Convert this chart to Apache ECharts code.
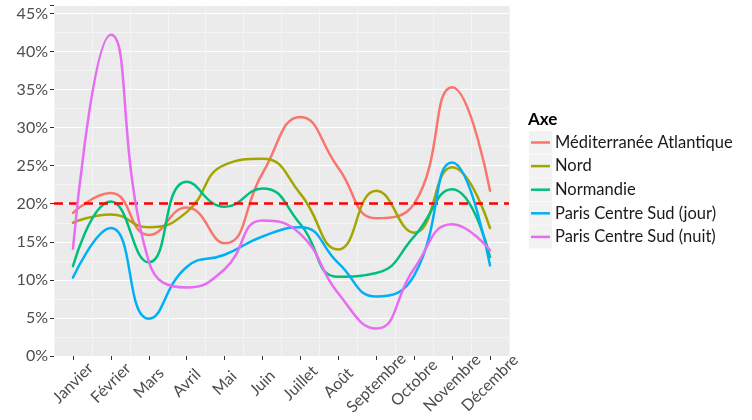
<!DOCTYPE html>
<html>
<head>
<meta charset="utf-8">
<script src="https://cdn.jsdelivr.net/npm/echarts@6/dist/echarts.min.js"></script>
<style>
  html, body { margin: 0; padding: 0; background: #fff; }
  #chart { width: 752px; height: 420px; }
</style>
</head>
<body>
<div id="chart"></div>
<script>
// months on the x axis
var months = ['Janvier', 'Février', 'Mars', 'Avril', 'Mai', 'Juin', 'Juillet', 'Août', 'Septembre', 'Octobre', 'Novembre', 'Décembre'];
// y tick labels (percent)
var yTicks = [0, 5, 10, 15, 20, 25, 30, 35, 40, 45];
// values, in %
var mediterranee = [18.8, 21.4, 15.9, 19.5, 14.8, 24.0, 31.4, 24.7, 18.1, 20.0, 35.3, 21.7];
var nord = [17.5, 18.6, 16.9, 18.9, 25.1, 25.9, 21.3, 14.0, 21.7, 16.2, 24.8, 16.8];
var normandie = [11.8, 20.3, 12.3, 22.9, 19.6, 22.0, 17.3, 10.4, 10.9, 15.7, 21.9, 13.0];
var parisJour = [10.3, 16.8, 4.9, 11.7, 13.3, 15.7, 16.9, 12.2, 7.8, 10.6, 25.4, 11.9];
var parisNuit = [14.1, 42.2, 12.4, 9.0, 11.4, 17.8, 16.0, 8.2, 3.6, 11.5, 17.3, 13.9];
var seuil = 20;

var names = ['Méditerranée Atlantique', 'Nord', 'Normandie', 'Paris Centre Sud (jour)', 'Paris Centre Sud (nuit)'];
var colors = ['#F8766D', '#A3A500', '#00BF7D', '#00B0F6', '#E76BF3'];
var allData = [mediterranee, nord, normandie, parisJour, parisNuit];

var font = 'Lato, "Open Sans", sans-serif';

var series = allData.map(function (d, i) {
  return {
    name: names[i],
    type: 'line',
    data: d,
    smooth: 0.5,
    symbol: 'none',
    z: 2 + i,
    lineStyle: { width: 2.5, color: colors[i], cap: 'round' },
    itemStyle: { color: colors[i] }
  };
});
// red dashed 20% line on top
series.push({
  name: 'seuil',
  type: 'line',
  data: [],
  z: 10,
  markLine: {
    silent: true,
    symbol: 'none',
    label: { show: false },
    lineStyle: { color: '#FF0000', type: [9, 6], width: 2.5 },
    data: [{ yAxis: seuil }]
  }
});

// grey key boxes behind the legend lines
var boxes = names.map(function (n, i) {
  return {
    type: 'rect',
    left: 529,
    top: 131 + i * 23.6,
    shape: { width: 23, height: 23 },
    style: { fill: '#F2F2F2' },
    z: 0
  };
});

var option = {
  animation: false,
  textStyle: { fontFamily: font },
  grid: {
    left: 54, right: 243, top: 5, bottom: 64,
    show: true, backgroundColor: '#EBEBEB', borderWidth: 0
  },
  title: {
    text: 'Axe', left: 528, top: 111, padding: 0,
    textStyle: { fontFamily: font, fontSize: 17, fontWeight: 'bold', color: '#000' }
  },
  legend: {
    orient: 'vertical',
    left: 531, top: 132.5, padding: 0,
    data: names,
    icon: 'rect',
    itemWidth: 19, itemHeight: 2.5,
    itemGap: 3.6,
    textStyle: { fontFamily: font, fontSize: 16.5, color: '#1A1A1A', lineHeight: 20 }
  },
  graphic: boxes,
  xAxis: {
    type: 'category',
    data: months,
    boundaryGap: true,
    axisLine: { show: false },
    axisTick: { show: true, alignWithLabel: true, length: 4, lineStyle: { color: '#333' } },
    axisLabel: {
      interval: 0, rotate: 45, margin: 27,
      align: 'center', verticalAlign: 'middle',
      fontSize: 16, color: '#4D4D4D', fontFamily: font
    },
    splitLine: { show: true, lineStyle: { color: '#F4F4F4', width: 1 } }
  },
  yAxis: {
    type: 'value',
    min: 0, max: 46.1, interval: 5,
    axisLine: { show: false },
    axisTick: { show: true, length: 4, lineStyle: { color: '#333' } },
    axisLabel: {
      margin: 6, fontSize: 16, color: '#4D4D4D', fontFamily: font,
      formatter: function (v) { return yTicks.indexOf(v) >= 0 ? v + '%' : ''; }
    },
    splitLine: { show: true, lineStyle: { color: '#FFFFFF', width: 1.2 } },
    minorTick: { show: false, splitNumber: 2 },
    minorSplitLine: { show: true, lineStyle: { color: '#F4F4F4', width: 1 } }
  },
  series: series
};

var myChart = echarts.init(document.getElementById('chart'));
myChart.setOption(option);
</script>
</body>
</html>
